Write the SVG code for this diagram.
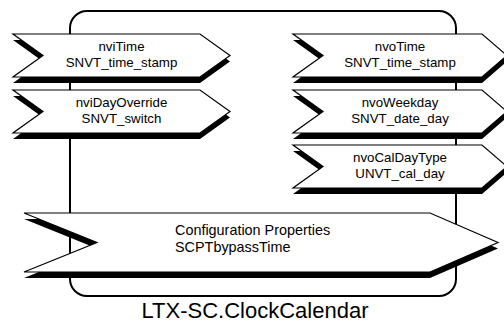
<svg xmlns="http://www.w3.org/2000/svg" xmlns:xlink="http://www.w3.org/1999/xlink" width="504" height="322" viewBox="0 0 504 322">
  <style>
    .frame { fill: none; stroke: #000; stroke-width: 2; }
    .shadow { fill: #000; stroke: none; }
    .body { fill: #fff; stroke: #000; stroke-width: 1.2; stroke-linejoin: miter; }
    .nv { font-family: "Liberation Sans", Arial, sans-serif; font-size: 13.3px; fill: #000; text-anchor: middle; }
    .cp { font-family: "Liberation Sans", Arial, sans-serif; font-size: 14.4px; fill: #000; }
    .title { font-family: "Liberation Sans", Arial, sans-serif; font-size: 22px; fill: #000; text-anchor: middle; }
  </style>
  <defs>
    <!-- input network variable block: notched left, pointed right -->
    <path id="nviShape" d="M0,0 H187 L217,21.5 L187,43 H0 L30,21.5 Z"/>
    <!-- output network variable block -->
    <path id="nvoShape" d="M0,0 H189 L214,21.5 L189,43 H0 L30,21.5 Z"/>
    <!-- configuration property block -->
    <path id="cpShape" d="M0,0 H406 L474,29.5 L406,59 H0 L73,29.5 Z"/>
  </defs>

  <!-- functional block outline -->
  <g id="block">
    <rect class="frame" x="70" y="11" width="386" height="285" rx="17" ry="17"/>
  </g>

  <g id="connectors"/>

  <g id="nviTime">
    <use xlink:href="#nviShape" href="#nviShape" class="shadow" x="13" y="40"/>
    <use xlink:href="#nviShape" href="#nviShape" class="body" x="13" y="34"/>
    <text class="nv" x="121.5" y="51">nviTime</text>
    <text class="nv" x="121.5" y="67">SNVT_time_stamp</text>
  </g>

  <g id="nviDayOverride">
    <use xlink:href="#nviShape" href="#nviShape" class="shadow" x="13" y="96"/>
    <use xlink:href="#nviShape" href="#nviShape" class="body" x="13" y="90"/>
    <text class="nv" x="121.5" y="107">nviDayOverride</text>
    <text class="nv" x="121.5" y="123">SNVT_switch</text>
  </g>

  <g id="nvoTime">
    <use xlink:href="#nvoShape" href="#nvoShape" class="shadow" x="293" y="40"/>
    <use xlink:href="#nvoShape" href="#nvoShape" class="body" x="293" y="34"/>
    <text class="nv" x="400" y="51">nvoTime</text>
    <text class="nv" x="400" y="67">SNVT_time_stamp</text>
  </g>

  <g id="nvoWeekday">
    <use xlink:href="#nvoShape" href="#nvoShape" class="shadow" x="293" y="96"/>
    <use xlink:href="#nvoShape" href="#nvoShape" class="body" x="293" y="90"/>
    <text class="nv" x="400" y="107">nvoWeekday</text>
    <text class="nv" x="400" y="123">SNVT_date_day</text>
  </g>

  <g id="nvoCalDayType">
    <use xlink:href="#nvoShape" href="#nvoShape" class="shadow" x="293" y="151"/>
    <use xlink:href="#nvoShape" href="#nvoShape" class="body" x="293" y="145"/>
    <text class="nv" x="400" y="162">nvoCalDayType</text>
    <text class="nv" x="400" y="178">UNVT_cal_day</text>
  </g>

  <g id="configProperties">
    <use xlink:href="#cpShape" href="#cpShape" class="shadow" x="24" y="219"/>
    <use xlink:href="#cpShape" href="#cpShape" class="body" x="24" y="213"/>
    <text class="cp" x="175" y="235">Configuration Properties</text>
    <text class="cp" x="175" y="252">SCPTbypassTime</text>
  </g>

  <g id="blockName">
    <text class="title" x="255" y="318">LTX-SC.ClockCalendar</text>
  </g>
</svg>
